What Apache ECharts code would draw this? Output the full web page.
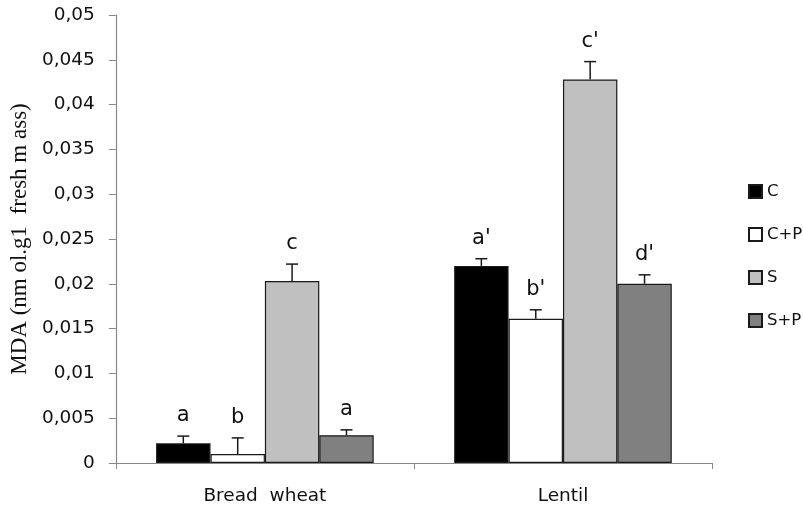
<!DOCTYPE html>
<html><head><meta charset="utf-8">
<script src="https://cdn.jsdelivr.net/npm/echarts@6/dist/echarts.min.js"></script>
<style>html,body{margin:0;padding:0;background:#fff}#c{width:803px;height:506px}</style>
</head><body><div id="c"></div>
<script>
const categories = ['Bread  wheat', 'Lentil'];
const seriesNames = ['C', 'C+P', 'S', 'S+P'];
const valC = [0.0022, 0.0220];
const valCP = [0.0010, 0.0161];
const valS = [0.0203, 0.0428];
const valSP = [0.0031, 0.0200];
const errC = [0.0008, 0.0008];
const errCP = [0.0018, 0.0010];
const errS = [0.0019, 0.0020];
const errSP = [0.0006, 0.0010];
const lettersC = ['a', "a'"];
const lettersCP = ['b', "b'"];
const lettersS = ['c', "c'"];
const lettersSP = ['a', "d'"];
const yTicks = [0, 0.005, 0.01, 0.015, 0.02, 0.025, 0.03, 0.035, 0.04, 0.045, 0.05];

const colors = ['#000000', '#ffffff', '#c0c0c0', '#808080'];
const values = [valC, valCP, valS, valSP];
const errs = [errC, errCP, errS, errSP];
const letters = [lettersC, lettersCP, lettersS, lettersSP];
const CAT_GAP = 0.27;

const chart = echarts.init(document.getElementById('c'));
const series = [];
seriesNames.forEach((n, i) => {
  series.push({
    name: n, type: 'bar', data: values[i], barGap: '0%', barCategoryGap: '27%',
    itemStyle: {color: colors[i], borderColor: '#1a1a1a', borderWidth: 1.2},
    emphasis: {disabled: true}, z: 2
  });
});
const errData = [];
seriesNames.forEach((n, i) => {
  categories.forEach((c, j) => {
    errData.push([j, i, values[i][j], errs[i][j], letters[i][j]]);
  });
});
series.push({
  type: 'custom', data: errData, z: 5, silent: true,
  encode: {x: 0, y: 2},
  renderItem: function (params, api) {
    const cat = api.value(0), si = api.value(1), v = api.value(2), e = api.value(3);
    const lab = errData[params.dataIndex][4];
    const bandW = api.size([1, 0])[0];
    const bw = bandW * (1 - CAT_GAP) / 4;
    const c = api.coord([cat, v]);
    const cx = c[0] + (si - 1.5) * bw;
    const top = api.coord([cat, v + e])[1];
    const capW = 6;
    return {
      type: 'group', children: [
        {type: 'line', shape: {x1: cx, y1: c[1], x2: cx, y2: top}, style: {stroke: '#1a1a1a', lineWidth: 1.5}},
        {type: 'line', shape: {x1: cx - capW, y1: top, x2: cx + capW, y2: top}, style: {stroke: '#1a1a1a', lineWidth: 1.5}},
        {type: 'text', style: {text: lab, x: cx, y: top - 10, align: 'center', verticalAlign: 'bottom',
          font: '21px "DejaVu Sans"', fill: '#111'}}
      ]
    };
  }
});

chart.setOption({
  animation: false,
  grid: {left: 114, right: 91, top: 15, bottom: 43, containLabel: false},
  legend: {
    orient: 'vertical', left: 748, top: 183, padding: 0, itemWidth: 13, itemHeight: 13, itemGap: 26,
    icon: 'rect',
    data: seriesNames,
    textStyle: {fontFamily: 'DejaVu Sans', fontSize: 16.5, color: '#111', padding: [0, 0, 0, 0]}
  },
  xAxis: {
    type: 'category', data: categories,
    axisLine: {lineStyle: {color: '#888', width: 1.2}},
    axisTick: {show: true, length: 6, lineStyle: {color: '#888'}},
    axisLabel: {fontFamily: 'DejaVu Sans', fontSize: 18.5, color: '#111', margin: 24}
  },
  yAxis: {
    type: 'value', min: 0, max: 0.05, interval: 0.005,
    name: 'MDA (nm ol.g1  fresh m ass)', nameLocation: 'middle', nameGap: 82, nameRotate: 90,
    nameTextStyle: {fontFamily: 'Liberation Serif', fontSize: 23, color: '#111'},
    axisLine: {show: true, lineStyle: {color: '#888', width: 1.2}},
    axisTick: {show: true, length: 7, lineStyle: {color: '#888'}},
    splitLine: {show: false},
    axisLabel: {fontFamily: 'DejaVu Sans', fontSize: 18.5, color: '#111', margin: 21,
      formatter: v => String(+v.toFixed(3)).replace('.', ',')}
  },
  series: series
});
</script></body></html>
